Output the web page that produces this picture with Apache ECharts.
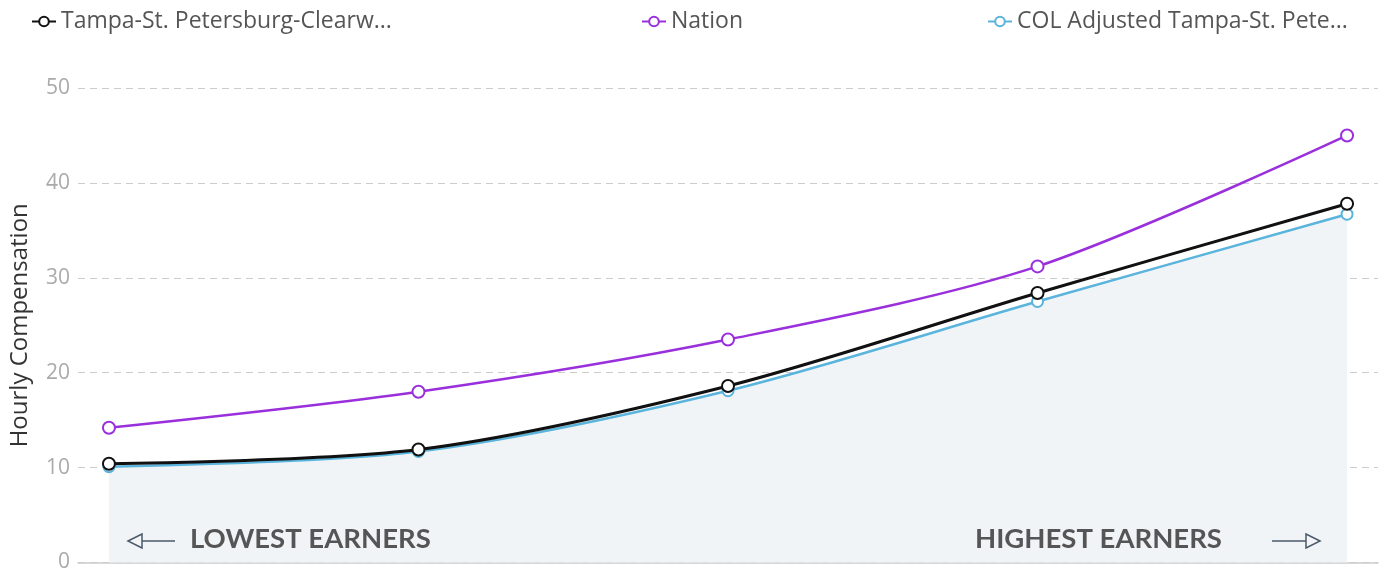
<!DOCTYPE html>
<html>
<head>
<meta charset="utf-8">
<script src="https://cdn.jsdelivr.net/npm/echarts@6/dist/echarts.min.js"></script>
<style>
  html, body { margin: 0; padding: 0; background: #fff; }
  #chart { width: 1387px; height: 573px; }
</style>
</head>
<body>
<div id="chart"></div>
<script>
// Earner percentile groups, lowest to highest
const groups = ['10th', '25th', '50th', '75th', '90th'];
const yTicks = [0, 10, 20, 30, 40, 50];

const seriesNames = [
  'Tampa-St. Petersburg-Clearwater, FL',
  'Nation',
  'COL Adjusted Tampa-St. Petersburg-Clearwater, FL'
];
const metroWages = [10.4, 11.9, 18.6, 28.4, 37.8];
const nationWages = [14.2, 18.0, 23.5, 31.2, 45.0];
const colAdjustedWages = [10.1, 11.7, 18.1, 27.5, 36.7];

const FONT = '"Open Sans", Lato, sans-serif';
const BOLD_FONT = 'Lato, "Open Sans", sans-serif';
const chart = echarts.init(document.getElementById('chart'));

function pairs(values) {
  return values.map((v, i) => [i, v]);
}

function legendAt(name, left) {
  return {
    data: [name],
    top: 5,
    left: left,
    itemWidth: 24,
    itemHeight: 12,
    itemGap: 6,
    textStyle: { fontFamily: FONT, fontSize: 23, color: '#555' },
    formatter: n => (n.length > 27 ? n.slice(0, 27) + '...' : n),
    selectedMode: false
  };
}

function arrow(x, y, len, dir) {
  // shaft plus an open triangular head
  const tipX = dir < 0 ? x : x + len;
  const baseX = tipX - dir * 14;
  return [
    {
      type: 'line',
      z: 100,
      shape: { x1: x, y1: y, x2: x + len, y2: y },
      style: { stroke: '#4a5a6a', lineWidth: 1.5 }
    },
    {
      type: 'polygon',
      z: 101,
      shape: { points: [[tipX, y], [baseX, y - 7], [baseX, y + 7]] },
      style: { fill: '#f2f4f7', stroke: '#4a5a6a', lineWidth: 1.5 }
    }
  ];
}

const option = {
  animation: false,
  backgroundColor: '#fff',
  legend: [
    legendAt(seriesNames[0], 26),
    legendAt(seriesNames[1], 636),
    legendAt(seriesNames[2], 982)
  ],
  grid: { left: 76, right: 9, top: 88, bottom: 10 },
  xAxis: {
    type: 'value',
    min: -0.1,
    max: 4.1,
    axisLabel: { show: false },
    axisTick: { show: false },
    splitLine: { show: false },
    axisLine: { show: true, onZero: false, lineStyle: { color: '#ccc', width: 1.5 } }
  },
  yAxis: {
    type: 'value',
    min: yTicks[0],
    max: yTicks[yTicks.length - 1],
    interval: 10,
    name: 'Hourly Compensation',
    nameLocation: 'middle',
    nameGap: 46,
    nameTextStyle: { fontFamily: FONT, fontSize: 24, color: '#333' },
    axisLine: { show: false },
    axisTick: { show: false },
    axisLabel: { fontFamily: FONT, fontSize: 21, color: '#aaa', margin: 8 },
    splitLine: { lineStyle: { color: '#ccc', type: [7, 5], width: 1 } }
  },
  series: [
    {
      name: seriesNames[2],
      type: 'line',
      data: pairs(colAdjustedWages),
      smooth: 0.3,
      symbol: 'emptyCircle',
      symbolSize: 11,
      z: 2,
      color: '#5ab4dc',
      lineStyle: { width: 2.5, color: '#5ab4dc' },
      itemStyle: { borderWidth: 2.5, color: '#5ab4dc' },
      areaStyle: { color: '#f1f4f7', opacity: 1 }
    },
    {
      name: seriesNames[1],
      type: 'line',
      data: pairs(nationWages),
      smooth: 0.3,
      symbol: 'emptyCircle',
      symbolSize: 12,
      z: 3,
      color: '#9a30dc',
      lineStyle: { width: 2.5, color: '#9a30dc' },
      itemStyle: { borderWidth: 2.5, color: '#9a30dc' }
    },
    {
      name: seriesNames[0],
      type: 'line',
      data: pairs(metroWages),
      smooth: 0.3,
      symbol: 'emptyCircle',
      symbolSize: 12,
      z: 4,
      color: '#111',
      lineStyle: { width: 3, color: '#111' },
      itemStyle: { borderWidth: 3, color: '#111' }
    }
  ],
  graphic: [
    ...arrow(128, 541, 47, -1),
    {
      type: 'text',
      z: 100,
      left: 190,
      top: 525,
      style: { text: 'LOWEST EARNERS', fontFamily: BOLD_FONT, fontSize: 27.5, fontWeight: 'bold', fill: '#555' }
    },
    {
      type: 'text',
      z: 100,
      left: 975,
      top: 525,
      style: { text: 'HIGHEST EARNERS', fontFamily: BOLD_FONT, fontSize: 27.5, fontWeight: 'bold', fill: '#555' }
    },
    ...arrow(1272, 541, 48, 1)
  ]
};

chart.setOption(option);
</script>
</body>
</html>
